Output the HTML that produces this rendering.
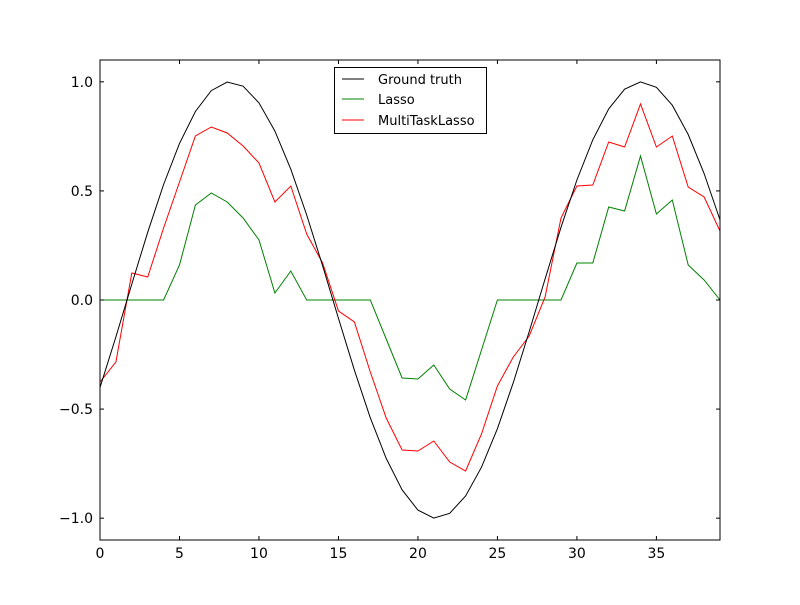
<!DOCTYPE html>
<html><head><meta charset="utf-8"><style>body{margin:0;background:#fff}svg text{font-family:"DejaVu Sans","Liberation Sans",sans-serif}</style></head>
<body>
<svg id="s" width="800" height="600" xmlns="http://www.w3.org/2000/svg">
<rect width="800" height="600" fill="#fff"/>
<g id="lines"></g>
<rect x="100" y="60" width="620" height="480" fill="none" stroke="#000" stroke-width="1"/>
<g id="ticks" stroke="#000" stroke-width="1"></g>
<g id="labels" font-size="14" fill="#000"></g>
<rect x="334.5" y="67.5" width="152" height="66" fill="#fff" stroke="#000"/>
<line x1="342" y1="79" x2="364" y2="79" stroke="#000"/>
<line x1="342" y1="99" x2="364" y2="99" stroke="#008000"/>
<line x1="342" y1="120" x2="364" y2="120" stroke="#f00"/>
<text x="378" y="84" font-size="13">Ground truth</text>
<text x="378" y="104" font-size="13">Lasso</text>
<text x="378" y="125" font-size="13">MultiTaskLasso</text>
</svg>
<script>
var X=function(i){return 100+i*620/39};
var g=document.getElementById('lines'),ns='http://www.w3.org/2000/svg';
function pl(pts,c){var p=document.createElementNS(ns,'polyline');p.setAttribute('points',pts.map(function(y,i){return X(i).toFixed(1)+','+y}).join(' '));p.setAttribute('fill','none');p.setAttribute('stroke',c);p.setAttribute('stroke-width','1');g.appendChild(p);}
var gt=[];for(var i=0;i<40;i++){gt.push((300-218.18*Math.sin(2*Math.PI*(i-1.7)/25.9)).toFixed(1));}
var la=[300,300,300,300,300,265,205,193,202,218,240,293,271,300,300,300,300,300,339,378,379,365,389,400,350,300,300,300,300,300,263,263,207,211,156,214,200,265,280,300];
var mt=[382,362,273,277,228,182,136,127,133,146,163,202,186,234,263,311,322,372,418,450,451,441,462,471,434,386,357,336,297,218,186,185,142,147,104,147,136,187,197,231];
pl(la,'#008000');pl(mt,'#f00');pl(gt,'#000');
var t=document.getElementById('ticks'),l=document.getElementById('labels');
function ln(a,b,c,d){var e=document.createElementNS(ns,'line');e.setAttribute('x1',a);e.setAttribute('y1',b);e.setAttribute('x2',c);e.setAttribute('y2',d);t.appendChild(e);}
function tx(x,y,s,a){var e=document.createElementNS(ns,'text');e.setAttribute('x',x);e.setAttribute('y',y);e.setAttribute('text-anchor',a);e.textContent=s;l.appendChild(e);}
for(var v=0;v<=35;v+=5){var x=X(v);ln(x,540,x,536);ln(x,60,x,64);tx(x,558,String(v),'middle');}
[1,0.5,0,-0.5,-1].forEach(function(v){var y=300-218.18*v;ln(100,y,104,y);ln(720,y,716,y);tx(93,y+5,(v<0?'\u2212':'')+Math.abs(v).toFixed(1),'end');});
</script>
</body></html>
